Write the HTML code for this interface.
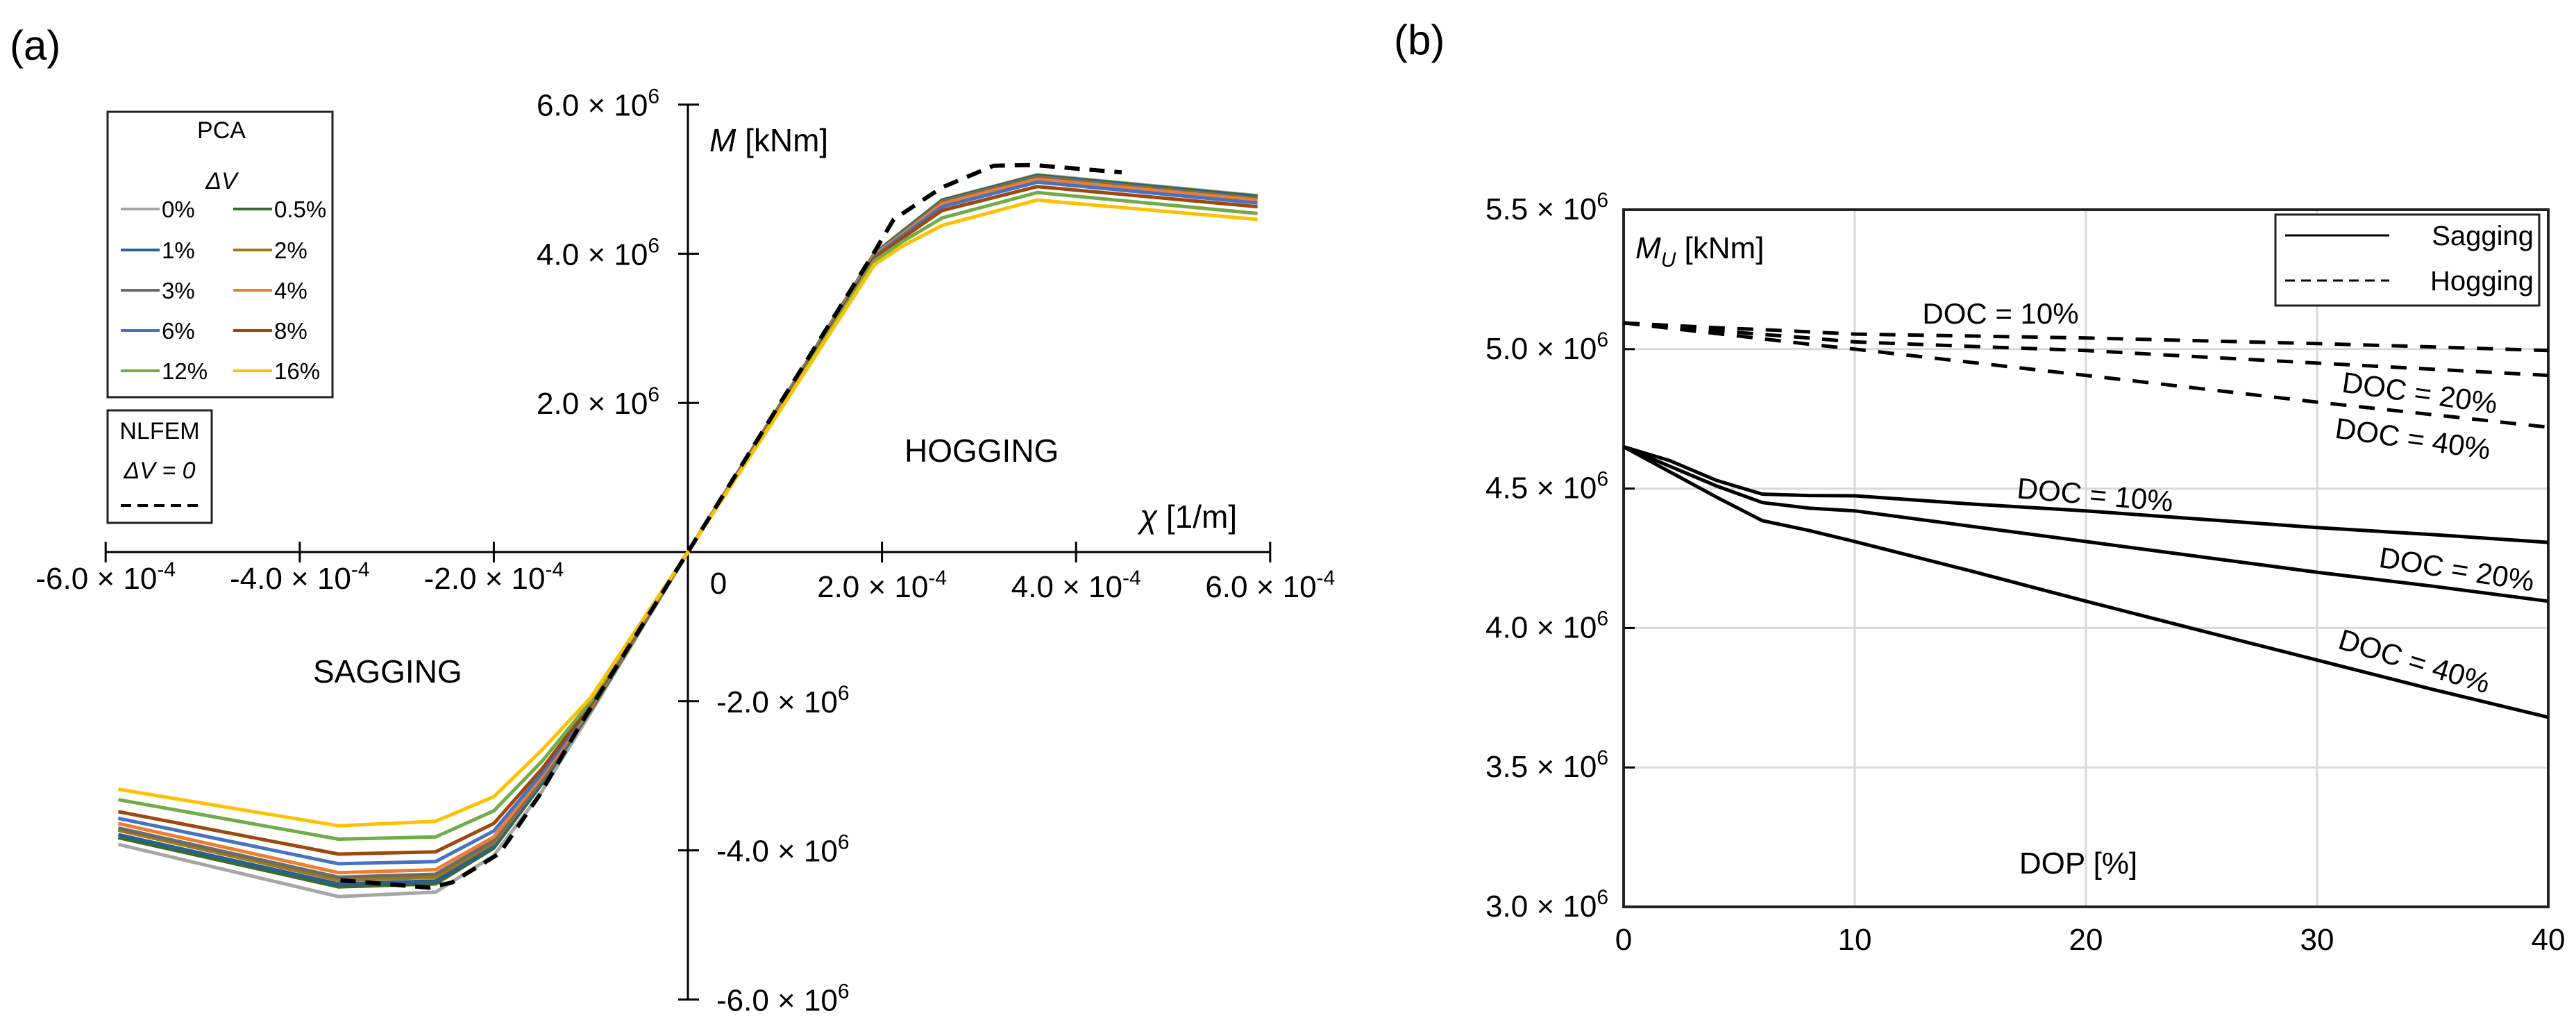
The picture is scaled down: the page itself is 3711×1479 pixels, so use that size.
<!DOCTYPE html>
<html><head><meta charset="utf-8">
<style>
html,body{margin:0;padding:0;background:#fff;}
svg{display:block;font-family:"Liberation Sans",sans-serif;}
</style></head>
<body>
<svg id="fig" width="3711" height="1479" viewBox="0 0 3711 1479" xmlns="http://www.w3.org/2000/svg">
<rect x="0" y="0" width="3711" height="1479" fill="#fff"/>
<text x="14" y="86" font-size="60">(a)</text>
<text x="2008" y="78" font-size="60">(b)</text>
<g id="pa"></g>
<g id="pb"></g>
</svg>
<script>
// ---------- Panel (a) data ----------
const aCurv = [-5.87,-3.6,-2.6,-2.0,-1.5,-1.0,0,1.0,1.92,2.22,2.62,3.6,5.87]; // x 1e-4 1/m
const aLabels = ["0%","0.5%","1%","2%","3%","4%","6%","8%","12%","16%"];
const aColors = ["#a6a6a6","#3b6b2a","#2a5f96","#9c7a14","#6b6b6b","#ed7d31","#4472c4","#9e480e","#70ad47","#ffc000"];
const aM0  = [-3.92,-4.62,-4.56,-4.07,-3.20,-2.15,0,2.08,4.00,4.31,4.72,5.06,4.78];
const aM05 = [-3.83,-4.49,-4.45,-3.97,-3.10,-2.12,0,2.08,4.00,4.31,4.72,5.05,4.77];
const aM1  = [-3.79,-4.45,-4.41,-3.94,-3.08,-2.10,0,2.07,4.00,4.30,4.71,5.04,4.76];
const aM2  = [-3.73,-4.40,-4.36,-3.90,-3.05,-2.10,0,2.07,3.99,4.29,4.70,5.03,4.74];
const aM3  = [-3.70,-4.36,-4.32,-3.87,-3.03,-2.09,0,2.06,3.99,4.28,4.69,5.02,4.73];
const aM4  = [-3.64,-4.30,-4.26,-3.82,-3.00,-2.08,0,2.06,3.98,4.27,4.67,5.00,4.72];
const aM6  = [-3.57,-4.18,-4.15,-3.74,-2.96,-2.06,0,2.05,3.96,4.25,4.63,4.96,4.68];
const aM8  = [-3.48,-4.05,-4.02,-3.64,-2.90,-2.04,0,2.04,3.94,4.22,4.58,4.90,4.63];
const aM12 = [-3.32,-3.85,-3.82,-3.47,-2.80,-2.00,0,2.02,3.90,4.17,4.48,4.82,4.54];
const aM16 = [-3.18,-3.67,-3.61,-3.28,-2.65,-1.95,0,2.00,3.85,4.11,4.38,4.72,4.46];
const nlX = [-3.58,-2.67,-2.43,-1.94,-1.53,-1.08,0,1.0,1.92,2.12,2.62,3.15,3.56,4.47];
const nlM = [-4.40,-4.50,-4.43,-4.04,-3.26,-2.25,0,2.1,4.02,4.46,4.89,5.18,5.19,5.09];
const aXTicks = [-6,-4,-2,2,4,6];
const aYTicks = [6,4,2,-2,-4,-6];

// ---------- Panel (b) data ----------
const bDop = [0,2,4,6,8,10,15,20,25,30,35,40];
const sag10 = [4.65,4.60,4.53,4.48,4.475,4.474,4.445,4.42,4.39,4.36,4.335,4.307];
const sag20 = [4.65,4.58,4.51,4.45,4.43,4.42,4.365,4.31,4.255,4.20,4.15,4.096];
const sag40 = [4.65,4.56,4.47,4.385,4.35,4.31,4.205,4.096,3.99,3.885,3.78,3.68];
const hog10 = [5.094,5.085,5.077,5.07,5.062,5.054,5.047,5.04,5.03,5.02,5.008,4.995];
const hog20 = [5.094,5.08,5.066,5.053,5.04,5.026,5.01,4.995,4.972,4.95,4.928,4.906];
const hog40 = [5.094,5.075,5.056,5.037,5.018,5.0,4.953,4.906,4.858,4.81,4.765,4.72];
const bXTicks = [0,10,20,30,40];
const bYTicks = [3.0,3.5,4.0,4.5,5.0,5.5];

const NS="http://www.w3.org/2000/svg";
function mk(tag, parent, attrs){const e=document.createElementNS(NS,tag);for(const k in attrs)e.setAttribute(k,attrs[k]);parent.appendChild(e);return e;}

// ---- panel a
const pa=document.getElementById('pa');
const ax=v=>991+v*139.8, ay=v=>795-v*107.4;
let e;
e=mk('line',pa,{x1:ax(-6),y1:795,x2:ax(6),y2:795,stroke:'#000','stroke-width':3});


e=mk('line',pa,{x1:991,y1:ay(6),x2:991,y2:ay(-6),stroke:'#000','stroke-width':3});


aXTicks.forEach(t=>{
  e=mk('line',pa,{x1:ax(t),y1:780,x2:ax(t),y2:810,stroke:'#000','stroke-width':3});
  
  
  e=mk('text',pa,{x:ax(t),y:t<0?848:860,'font-size':44,'text-anchor':'middle'});
  
  
  e.innerHTML=(t<0?'-':'')+Math.abs(t).toFixed(1)+' × 10<tspan dy="-18" font-size="30">-4</tspan>';
});
e=mk('text',pa,{x:1035,y:855,'font-size':44,'text-anchor':'middle'});


e.textContent='0';
aYTicks.forEach(t=>{
  e=mk('line',pa,{x1:977,y1:ay(t),x2:1007,y2:ay(t),stroke:'#000','stroke-width':3});
  
  
  const pos=t>0;
  e=mk('text',pa,{x:pos?950:1032,y:ay(t)+16,'font-size':44,'text-anchor':pos?'end':'start'});
  
  
  e.innerHTML=(pos?'':'-')+Math.abs(t).toFixed(1)+' × 10<tspan dy="-18" font-size="30">6</tspan>';
});
const aSeries=[aM0,aM05,aM1,aM2,aM3,aM4,aM6,aM8,aM12,aM16];
aSeries.forEach((s,i)=>{
  const d=s.map((v,j)=>(j?'L':'M')+ax(aCurv[j]).toFixed(1)+','+ay(v).toFixed(1)).join(' ');
  e=mk('path',pa,{d:d,fill:'none',stroke:aColors[i],'stroke-width':5,'stroke-linejoin':'round'});
  
  
});
e=mk('path',pa,{d:nlM.map((v,j)=>(j?'L':'M')+ax(nlX[j]).toFixed(1)+','+ay(v).toFixed(1)).join(' '),fill:'none',stroke:'#000','stroke-width':6,'stroke-dasharray':'22 14'});


// labels
e=mk('text',pa,{x:1022,y:218,'font-size':46});


e.innerHTML='<tspan font-style="italic">M</tspan> [kNm]';
e=mk('text',pa,{x:1642,y:760,'font-size':46});


e.innerHTML='<tspan font-style="italic">χ</tspan> [1/m]';
e=mk('text',pa,{x:1303,y:665,'font-size':46});


e.textContent='HOGGING';
e=mk('text',pa,{x:451,y:983,'font-size':46});


e.textContent='SAGGING';
// legend PCA
const lg=mk('g',pa,{});


mk('rect',lg,{x:155,y:161,width:324,height:411,fill:'#fff',stroke:'#222','stroke-width':3});
mk('text',lg,{x:319,y:199,'font-size':34,'text-anchor':'middle'}).textContent='PCA';
mk('text',lg,{x:319,y:272,'font-size':34,'text-anchor':'middle','font-style':'italic'}).textContent='ΔV';
const rowY=[301,360,418,476,534];
aLabels.forEach((l,i)=>{
  const col=i%2,row=Math.floor(i/2);
  const x0=col?336:174,y=rowY[row];
  const g=mk('g',lg,{});
  
  
  mk('line',g,{x1:x0,y1:y,x2:x0+56,y2:y,stroke:aColors[i],'stroke-width':4});
  mk('text',g,{x:x0+59,y:y+12,'font-size':33}).textContent=l;
});
const lg2=mk('g',pa,{});


mk('rect',lg2,{x:155,y:591,width:150,height:162,fill:'#fff',stroke:'#222','stroke-width':3});
mk('text',lg2,{x:230,y:632,'font-size':34,'text-anchor':'middle'}).textContent='NLFEM';
mk('text',lg2,{x:230,y:689,'font-size':34,'text-anchor':'middle','font-style':'italic'}).textContent='ΔV = 0';
mk('line',lg2,{x1:174,y1:728,x2:290,y2:728,stroke:'#000','stroke-width':4,'stroke-dasharray':'15 9'});

// ---- panel b
const pb=document.getElementById('pb');
const L=2339,R=3671,T=302,B=1306;
const bx=v=>L+v/40*(R-L), by=v=>B-(v-3.0)/2.5*(B-T);
bXTicks.forEach(t=>{
  if(t>0&&t<40){e=mk('line',pb,{x1:bx(t),y1:T,x2:bx(t),y2:B,stroke:'#d9d9d9','stroke-width':3});
  
  }
  e=mk('text',pb,{x:bx(t),y:B+62,'font-size':44,'text-anchor':'middle'});
  
  
  e.textContent=t;
});
bYTicks.forEach(t=>{
  if(t>3&&t<5.5){e=mk('line',pb,{x1:L,y1:by(t),x2:R,y2:by(t),stroke:'#d9d9d9','stroke-width':3});
  
  }
  e=mk('line',pb,{x1:L,y1:by(t),x2:L+16,y2:by(t),stroke:'#000','stroke-width':3});
  
  
  e=mk('text',pb,{x:L-22,y:by(t)+14,'font-size':44,'text-anchor':'end'});
  
  
  e.innerHTML=t.toFixed(1)+' × 10<tspan dy="-18" font-size="30">6</tspan>';
});
e=mk('rect',pb,{x:L,y:T,width:R-L,height:B-T,fill:'none',stroke:'#222','stroke-width':4});


function bLine(arr,name,dash){
  e=mk('path',pb,{d:arr.map((v,j)=>(j?'L':'M')+bx(bDop[j]).toFixed(1)+','+by(v).toFixed(1)).join(' '),fill:'none',stroke:'#000','stroke-width':5,'stroke-linejoin':'round'});
  if(dash)e.setAttribute('stroke-dasharray','23 18');
  
  
}
bLine(sag10,'sagging-doc10',false);
bLine(sag20,'sagging-doc20',false);
bLine(sag40,'sagging-doc40',false);
bLine(hog10,'hogging-doc10',true);
bLine(hog20,'hogging-doc20',true);
bLine(hog40,'hogging-doc40',true);
function lab(txt,x,y,rot,name){
  e=mk('text',pb,{x:x,y:y,'font-size':42,'text-anchor':'middle',transform:'rotate('+rot+' '+x+' '+y+')'});
  
  
  e.textContent=txt;
}
lab('DOC = 10%',2882,466,0,'label-hog-doc10');
lab('DOC = 20%',3484,580,8,'label-hog-doc20');
lab('DOC = 40%',3474,646,8,'label-hog-doc40');
lab('DOC = 10%',3017,727,5,'label-sag-doc10');
lab('DOC = 20%',3537,834,9,'label-sag-doc20');
lab('DOC = 40%',3474,966,17,'label-sag-doc40');
e=mk('text',pb,{x:2356,y:372,'font-size':44});


e.innerHTML='<tspan font-style="italic">M</tspan><tspan dy="12" font-size="30" font-style="italic">U</tspan><tspan dy="-12"> [kNm]</tspan>';
e=mk('text',pb,{x:2994,y:1258,'font-size':44,'text-anchor':'middle'});


e.textContent='DOP [%]';
const lb=mk('g',pb,{});


mk('rect',lb,{x:3278,y:309,width:380,height:131,fill:'#fff',stroke:'#222','stroke-width':3});
mk('line',lb,{x1:3292,y1:339,x2:3442,y2:339,stroke:'#000','stroke-width':3});
mk('text',lb,{x:3650,y:353,'font-size':40,'text-anchor':'end'}).textContent='Sagging';
mk('line',lb,{x1:3292,y1:404,x2:3442,y2:404,stroke:'#000','stroke-width':3,'stroke-dasharray':'14 9'});
mk('text',lb,{x:3650,y:418,'font-size':40,'text-anchor':'end'}).textContent='Hogging';
</script>
</body></html>
